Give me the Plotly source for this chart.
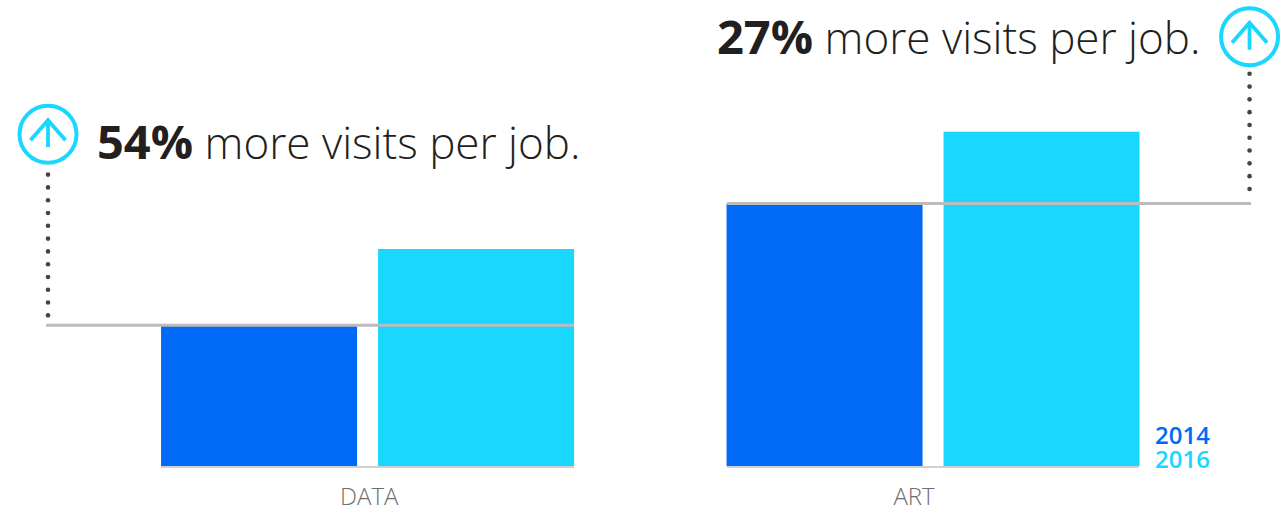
import plotly.graph_objects as go

categories = ["DATA", "ART"]
positions = [0, 1]
label_positions = [0.003, 0.9664]
values_2014 = [100.5, 187.5]
values_2016 = [155, 238.7]
series_names = ["2014", "2016"]
increase_labels = ["54%", "27%"]
BLUE = "#0069f5"
CYAN = "#19d7ff"
INK = "#231f20"
RULE = "#bcbcbc"
FONT = "Open Sans"

X_RANGE = [-0.65, 1.6153]
Y_RANGE = [-2.857, 332.86]
FLOOR_LEVEL = -0.7
PLOT_BOTTOM = 470

fig = go.Figure()
fig.add_bar(x=positions, y=values_2014, name=series_names[0], marker_color=BLUE, marker_line_width=0)
fig.add_bar(x=positions, y=values_2016, name=series_names[1], marker_color=CYAN, marker_line_width=0)

# Grey rules: floor under each group, plus a level line carried from each 2014 bar
rule_spans = [
    ([-0.3652, 0.3652], FLOOR_LEVEL, 2, "#d0d0d0"),
    ([0.6357, 1.3643], FLOOR_LEVEL, 2, "#d0d0d0"),
    ([-0.5685, 0.3652], values_2014[0], 3, RULE),
    ([0.6357, 1.5623], values_2014[1], 3, RULE),
]
for xs, level, width, colour in rule_spans:
    fig.add_scatter(x=xs, y=[level, level], mode="lines",
                    line=dict(color=colour, width=width), hoverinfo="skip")

# Dotted leaders rising from the level lines to the arrow badges
leaders = [
    (-0.5651, values_2014[0] + 7.1, 12),
    (1.5597, values_2014[1] + 10.4, 10),
]
DOT_STEP = 9.14
for x, start, count in leaders:
    ys = [start + DOT_STEP * i for i in range(count)]
    fig.add_scatter(x=[x] * count, y=ys, mode="markers",
                    marker=dict(color="#444444", size=4.6), hoverinfo="skip")

# Round badges with an upward arrow, sized in pixels around an anchor point
badges = [(-0.5651, 237.0), (1.5597, 306.6)]
shapes = []
for x, y in badges:
    common = dict(xref="x", yref="y", xsizemode="pixel", ysizemode="pixel",
                  xanchor=x, yanchor=y)
    shapes.append(dict(type="circle", x0=-28.5, x1=28.5, y0=-28.5, y1=28.5,
                       line=dict(color=CYAN, width=4), **common))
    shapes.append(dict(type="path", path="M -17.5 -6 L 0 14 L 17.5 -6 M 0 14 L 0 -13",
                       line=dict(color=CYAN, width=3.8), **common))

text_common = dict(xref="paper", yref="paper", showarrow=False, yanchor="middle")


def px_x(px):
    return px / 1281


def px_y(px):
    return 1 - px / PLOT_BOTTOM


def headline(label):
    return (f'<span style="font-size:47px"><b>{label}</b></span> '
            "more visits per job.")


annotations = [
    dict(x=px_x(95), y=px_y(141), xanchor="left", text=headline(increase_labels[0]),
         font=dict(family=FONT, size=44, color=INK, weight=300), **text_common),
    dict(x=px_x(1203), y=px_y(36), xanchor="right", text=headline(increase_labels[1]),
         font=dict(family=FONT, size=44, color=INK, weight=300), **text_common),
    dict(x=px_x(1212), y=px_y(434), xanchor="right", text=series_names[0],
         font=dict(family=FONT, size=24, color=BLUE, weight=600), **text_common),
    dict(x=px_x(1212), y=px_y(458), xanchor="right", text=series_names[1],
         font=dict(family=FONT, size=24, color=CYAN, weight=600), **text_common),
]

fig.update_layout(
    width=1281, height=512,
    margin=dict(l=0, r=0, t=0, b=512 - PLOT_BOTTOM, pad=0),
    paper_bgcolor="white", plot_bgcolor="white",
    barmode="group", bargap=0.2325, bargroupgap=0.0968,
    showlegend=False,
    shapes=shapes, annotations=annotations,
    xaxis=dict(range=X_RANGE, tickmode="array", tickvals=label_positions, ticktext=categories,
               automargin=False, showgrid=False, zeroline=False, showline=False, ticks="outside",
               ticklen=5, tickcolor="rgba(0,0,0,0)",
               tickfont=dict(family=FONT, size=24, color="#6e6e6e", weight=300)),
    yaxis=dict(range=Y_RANGE, visible=False, showgrid=False, zeroline=False, automargin=False),
)

fig.write_html("out.html", config=dict(displayModeBar=False))
